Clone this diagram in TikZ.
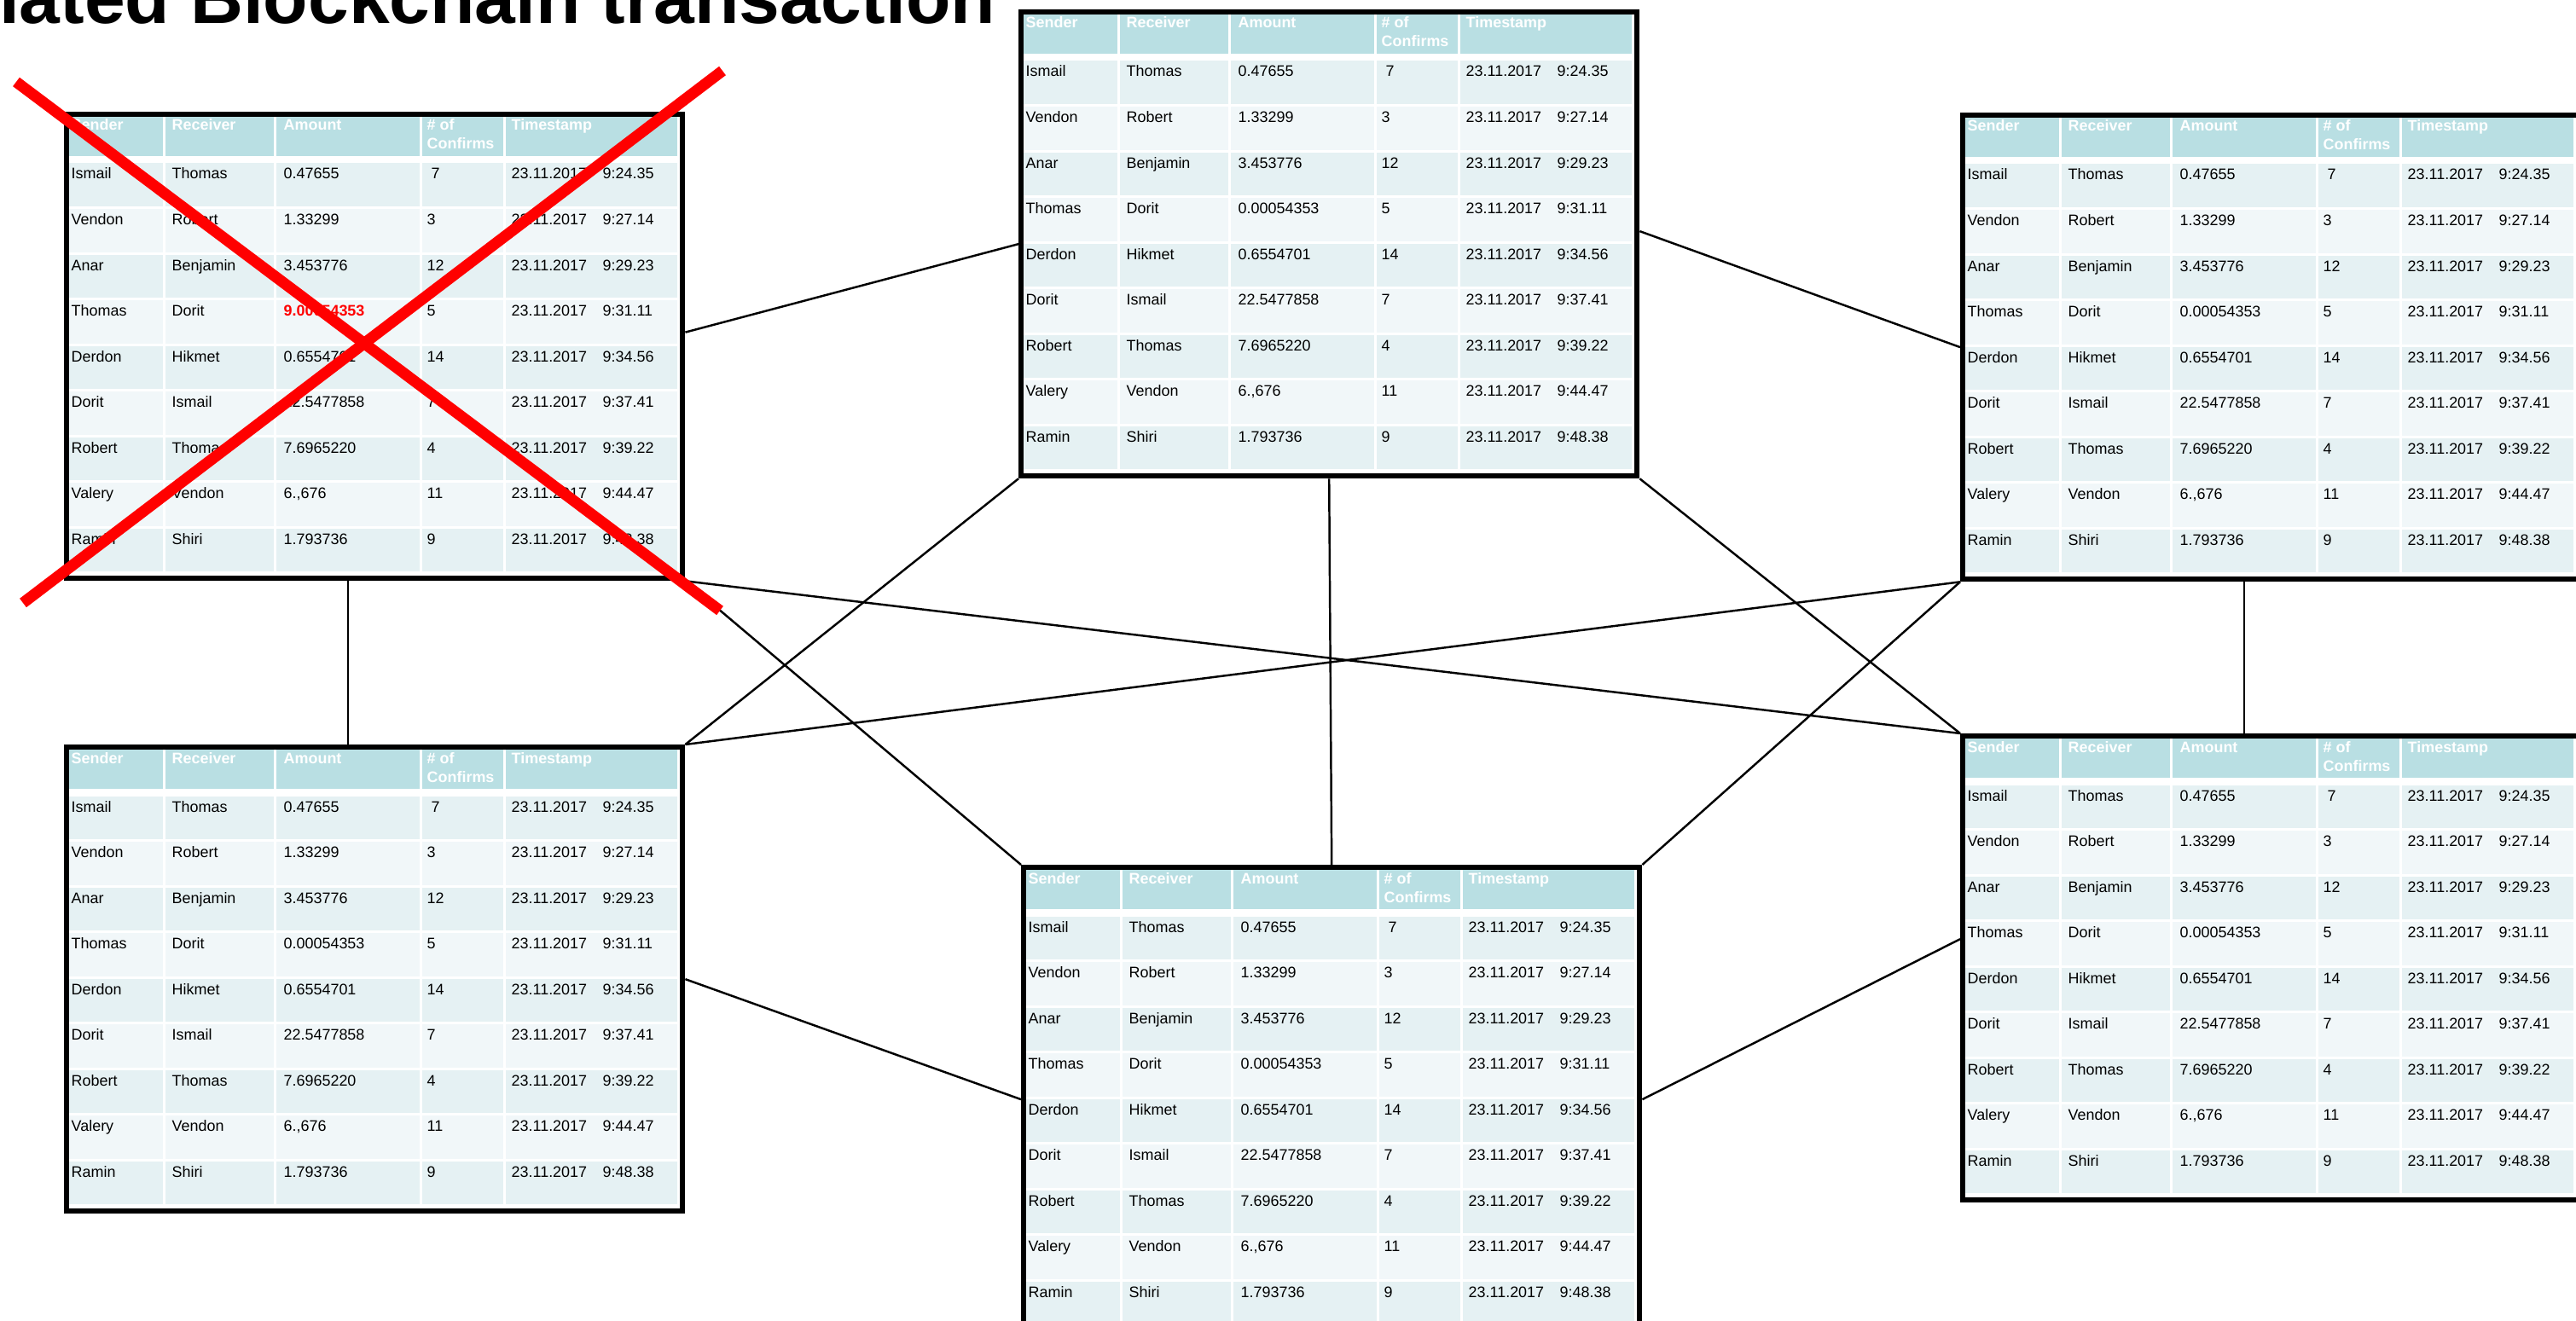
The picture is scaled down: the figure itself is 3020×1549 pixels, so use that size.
\documentclass[tikz,border=0pt]{standalone}
\usepackage{fontspec}
\setmainfont{Liberation Sans}
\usepackage{tikz}
\usetikzlibrary{calc}

\definecolor{headteal}{RGB}{185,223,227}
\definecolor{rowdark}{RGB}{229,241,243}
\definecolor{rowlight}{RGB}{241,247,249}

\begin{document}
\begin{tikzpicture}[x=0.01cm,y=-0.01cm,
    link/.style={line width=0.7pt},
    crossout/.style={red,line width=0.13cm},
    headcell/.style={anchor=base west,inner sep=0pt,text=white,
        font=\fontsize{5.1pt}{6.5pt}\selectfont\bfseries},
    datacell/.style={anchor=base west,inner sep=0pt,text=black,
        font=\fontsize{5.1pt}{6.5pt}\selectfont},
    tableframe/.style={draw=black,line width=0.06cm,inner sep=0pt,
        minimum width=7.22cm,minimum height=5.44cm,anchor=north west}]
    %% Copies of one ledger, linked as peers

    % Parameters
    \def\rowh{53.55}
    \def\rowtop{62}
    \def\ledgerrows{Ismail/Thomas/0.47655/~7/9:24.35,
        Vendon/Robert/1.33299/3/9:27.14,
        Anar/Benjamin/3.453776/12/9:29.23,
        Thomas/Dorit/\rowfouramount/5/9:31.11,
        Derdon/Hikmet/0.6554701/14/9:34.56,
        Dorit/Ismail/22.5477858/7/9:37.41,
        Robert/Thomas/7.6965220/4/9:39.22,
        Valery/Vendon/{6.,676}/11/9:44.47,
        Ramin/Shiri/1.793736/9/9:48.38}

    % One ledger: name, top left corner, amount of the fourth row
    \def\blocktable#1#2#3#4{%
        \def\rowfouramount{#4}%
        \begin{scope}[shift={(#2,#3)}]
            % Header band
            \fill[headteal] (6,6) rectangle (722,55);
            % Row bands
            \foreach \i in {1,...,9} {
                \pgfmathsetmacro\ry{\rowtop+(\i-1)*\rowh}
                \ifodd\i\relax\def\rowcol{rowdark}\else\def\rowcol{rowlight}\fi
                \fill[\rowcol] (6,{\ry+1.5}) rectangle (722,{\ry+\rowh-1.5});
            }
            % Column separators
            \foreach \cx in {120,250,421,519}
                \draw[white,line width=0.03cm] (\cx,6) -- (\cx,544);
            % Header
            \node[headcell] (#1-h1) at (11,25) {Sender};
            \node[headcell] (#1-h2) at (129,25) {Receiver};
            \node[headcell] (#1-h3) at (260,25) {Amount};
            \node[headcell] (#1-h4) at (428,25) {\# of};
            \node[headcell] (#1-h5) at (428,47) {Confirms};
            \node[headcell] (#1-h6) at (527,25) {Timestamp};
            % Transactions
            \foreach \snd/\rcv/\amt/\conf/\tim [count=\i] in \ledgerrows {
                \pgfmathsetmacro\by{\rowtop+(\i-1)*\rowh+20}
                \node[datacell] (#1-\i-s) at (11,\by) {\snd};
                \node[datacell] (#1-\i-r) at (129,\by) {\rcv};
                \node[datacell] (#1-\i-a) at (260,\by) {\amt};
                \node[datacell] (#1-\i-c) at (428,\by) {\conf};
                \node[datacell] (#1-\i-d) at (527,\by) {23.11.2017};
                \node[datacell] (#1-\i-t) at (634,\by) {\tim};
            }
            % Frame
            \node[tableframe] (#1) at (3,3) {};
        \end{scope}
    }

    \useasboundingbox (0,0) rectangle (3020,1549);
    \clip (0,0) rectangle (3020,1549);

    % Title
    \node[anchor=base east,inner sep=0pt,
        font=\fontsize{24.4pt}{29pt}\selectfont\bfseries] (title)
        at (1168,28) {Manipulated Blockchain transaction};

    % Ledgers
    \blocktable{A}{72}{128}{\textcolor{red}{\bfseries 9.00054353}}
    \blocktable{B}{1191}{8}{0.00054353}
    \blocktable{C}{2295}{129}{0.00054353}
    \blocktable{D}{72}{870}{0.00054353}
    \blocktable{E}{1194}{1011}{0.00054353}
    \blocktable{F}{2295}{857}{0.00054353}

    % Peer links
    \draw[link]
    ([yshift=0.165cm]A.east)
    -- (B.west);

    \draw[link]
    ($(A.south west)!.457!(A.south east)$) coordinate (ad)
    -- (ad |- D.north);

    \draw[link] (A.south east) -- (F.north west);
    \draw[link] (A.south east) -- (E.north west);
    \draw[link] (B.south west) -- (D.north east);
    \draw[link] (B.south) -- (E.north);
    \draw[link] (B.south east) -- (F.north west);

    \draw[link]
    ([yshift=0.15cm]B.east)
    -- (C.west);

    \draw[link] (C.south west) -- (D.north east);
    \draw[link] (C.south west) -- (E.north east);

    \draw[link]
    ($(C.south west)!.457!(C.south east)$) coordinate (cf)
    -- (cf |- F.north);

    \draw[link] (D.east) -- (E.west);

    \draw[link]
    (E.east)
    -- ([yshift=0.34cm]F.west);

    % Cross out the tampered copy
    \draw[crossout] (19,96) -- (844,716);
    \draw[crossout] (847,83) -- (27,707);

\end{tikzpicture}
\end{document}
